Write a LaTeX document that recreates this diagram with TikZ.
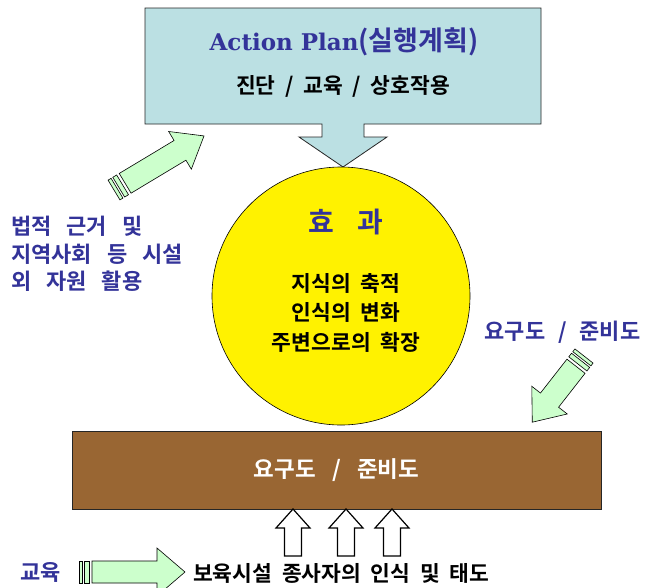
\documentclass[tikz,border=0pt]{standalone}
\usepackage{fontspec}
\newfontfamily\kr{Noto Sans CJK KR Bold}[WordSpace=2]
\newfontfamily\lat{DejaVuSerif-Bold.ttf}
\definecolor{boxcyan}{HTML}{BBE0E3}
\definecolor{arrowgreen}{HTML}{CCFFCC}
\definecolor{woodbrown}{HTML}{996633}
\definecolor{navy}{HTML}{333399}
\newcommand{\mygap}[1]{\hspace{#1}}
\newcommand{\mystriped}[3]{%
  \draw[greenarrow] (0,-#2) rectangle (3.5,#2);
  \draw[greenarrow] (5.5,-#2) rectangle (10,#2);
  \draw[greenarrow] (13,-#2) -- ({#1-28},-#2) -- ({#1-28},-#3) -- (#1,0) -- ({#1-28},#3) -- ({#1-28},#2) -- (13,#2) -- cycle;
}
\tikzset{
  greenarrow/.style={fill=arrowgreen, draw=black, line width=0.6pt, line join=miter},
  whitearrow/.style={fill=white, draw=black, line width=1.2pt, line join=miter},
  txt/.style={inner sep=0pt, font=\kr\fontsize{21.5}{28}\selectfont},
  wtxt/.style={inner sep=0pt, font=\kr\fontsize{22}{27.5}\selectfont},
  navytxt/.style={wtxt, text=navy},
}
\begin{document}
\begin{tikzpicture}[x=1pt, y=-1pt]
\clip (0,0) rectangle (645,587);
\fill[white] (0,0) rectangle (645,587);
% top callout box
\draw[fill=boxcyan, draw=black!85, line width=0.8pt]
  (145,8) -- (541,8) -- (541,124) -- (364,124) -- (364,137) -- (387,137) -- (343,167)
  -- (299,137) -- (322,137) -- (322,124) -- (145,124) -- cycle;
\node[inner sep=0pt, text=navy] (title) at (344,42)
  {{\lat\fontsize{23}{26}\selectfont Action Plan}{\kr\fontsize{27}{28}\selectfont (실행계획)}};
\node[txt] (sub) at (343,86) {진단 / 교육 / 상호작용};
% circle
\node[circle, fill=yellow, draw=black, line width=0.6pt, minimum size=258pt, inner sep=0pt, outer sep=0pt] (eff) at (341,296) {};
\node[txt, text=navy, font=\kr\fontsize{28}{30}\selectfont] (hyo) at (346,222) {효\hspace{24pt}과};
\node[txt] (c1) at (346,283) {지식의 축적};
\node[txt] (c2) at (346,312) {인식의 변화};
\node[txt] (c3) at (346,342) {주변으로의 확장};
% left text
\node[navytxt, anchor=west, align=left] (left) at (11,254) {법적\mygap{5pt} 근거\mygap{5pt} 및\\지역사회\mygap{5pt} 등\mygap{5pt} 시설\\외\mygap{5pt} 자원\mygap{5pt} 활용};
% right text
\node[navytxt] (right) at (562.5,332) {요구도\mygap{3pt} /\mygap{3pt} 준비도};
% brown box
\node[draw=black!85, fill=woodbrown, line width=0.8pt, minimum width=529pt, minimum height=78pt, wtxt, font=\kr\fontsize{22.5}{24}\selectfont, text=white] (need) at (336.5,470) {요구도\mygap{6pt} /\mygap{6pt} 준비도};
% up arrows
\foreach \tx in {293, 346, 392}{
  \draw[whitearrow] (\tx,509) -- (\tx+17,528) -- (\tx+8.5,528) -- (\tx+8.5,556)
    -- (\tx-8.5,556) -- (\tx-8.5,528) -- (\tx-17,528) -- cycle;
}
% green arrows
\begin{scope}[shift={(114,190)}, rotate=31]
  \mystriped{105}{11.5}{22}
\end{scope}
\begin{scope}[shift={(584,356)}, rotate=232]
  \mystriped{84}{11.5}{22.5}
\end{scope}
\begin{scope}[shift={(79,572)}]
  \mystriped{106}{11}{24}
\end{scope}
% bottom texts
\node[navytxt, anchor=west] (edu) at (20,572) {교육};
\node[txt, anchor=west] (staff) at (193,573) {보육시설 종사자의 인식 및 태도};
\end{tikzpicture}
\end{document}
